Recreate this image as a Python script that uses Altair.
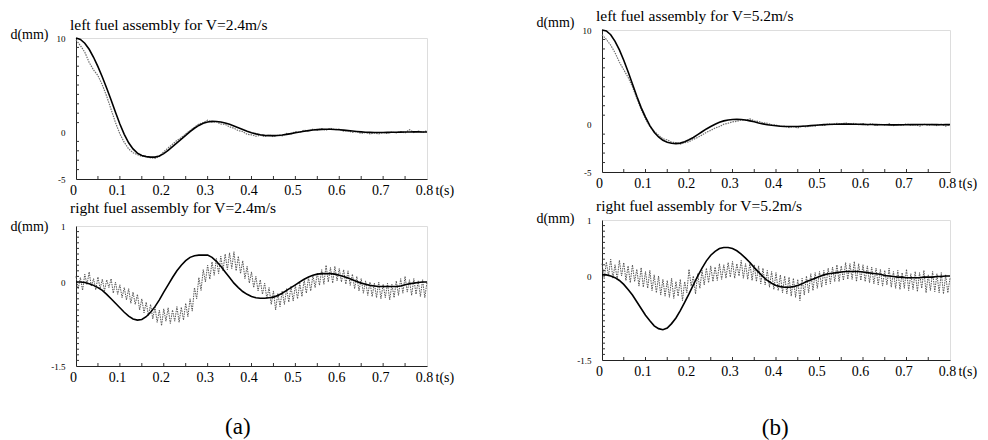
import altair as alt
import pandas as pd

FONT = "Liberation Serif"

# time grids (s)
T_COARSE = [i / 100 for i in range(81)]
T_FINE = [i / 200 for i in range(161)]

# axis label values / inner tick positions
X_LABELS = [0, 0.1, 0.2, 0.3, 0.4, 0.5, 0.6, 0.7, 0.8]
X_MINOR = [0.05, 0.1, 0.15, 0.2, 0.25, 0.3, 0.35, 0.4, 0.45, 0.5, 0.55, 0.6, 0.65, 0.7, 0.75]
Y_LABELS_TOP = [-5, 0, 10]
Y_MINOR_TOP = [-4, -3, -2, -1, 1, 2, 3, 4, 5, 6, 7, 8, 9]
Y_LABELS_BOT = [-1.5, 0, 1]
Y_MINOR_BOT = [-1.4, -1.3, -1.2, -1.1, -1.0, -0.9, -0.8, -0.7, -0.6, -0.5, -0.4, -0.3, -0.2, -0.1,
               0.1, 0.2, 0.3, 0.4, 0.5, 0.6, 0.7, 0.8, 0.9]

TITLES = ["left fuel assembly for V=2.4m/s", "right fuel assembly for V=2.4m/s",
          "left fuel assembly for V=5.2m/s", "right fuel assembly for V=5.2m/s"]
CAPTIONS = ["(a)", "(b)"]

# (a) left fuel assembly, V=2.4 m/s
LEFT24_CALC = [10.0, 9.85, 9.45, 8.8, 7.95, 6.95, 5.85, 4.65, 3.4, 2.1, 0.85,
               -0.25, -1.15, -1.8, -2.25, -2.5, -2.62, -2.67, -2.67, -2.55, -2.3,
               -1.95, -1.55, -1.15, -0.75, -0.35, 0.05, 0.4, 0.7, 0.92, 1.07,
               1.13, 1.12, 1.06, 0.96, 0.82, 0.65, 0.46, 0.27, 0.09, -0.07,
               -0.2, -0.3, -0.36, -0.39, -0.39, -0.37, -0.32, -0.25, -0.17, -0.08,
               0.0, 0.08, 0.15, 0.21, 0.25, 0.28, 0.29, 0.29, 0.27, 0.24,
               0.2, 0.15, 0.1, 0.05, 0.01, -0.02, -0.04, -0.05, -0.05, -0.05,
               -0.04, -0.03, -0.02, -0.01, 0.0, 0.0, 0.01, 0.01, 0.0, 0.0]
LEFT24_EXP = [9.8, 9.2, 8.5, 7.4, 6.6, 6.0, 5.0, 3.8, 2.4, 1.0, -0.2,
              -1.1, -1.8, -2.2, -2.4, -2.6, -2.6, -2.75, -2.8, -2.6, -2.1,
              -1.7, -1.3, -0.9, -0.6, -0.2, 0.15, 0.5, 0.85, 1.0, 1.25,
              1.05, 1.1, 0.85, 0.8, 0.55, 0.4, 0.15, 0.05, -0.25, -0.3,
              -0.45, -0.35, -0.5, -0.3, -0.5, -0.35, -0.4, -0.15, -0.2, 0.05,
              -0.05, 0.2, 0.1, 0.3, 0.2, 0.35, 0.2, 0.4, 0.25, 0.3,
              0.1, 0.15, -0.05, 0.05, -0.15, -0.05, -0.2, -0.1, -0.2, -0.05,
              -0.15, 0.0, -0.1, 0.05, -0.1, 0.25, -0.05, 0.1, -0.05, 0.15]

# (a) right fuel assembly, V=2.4 m/s
RIGHT24_CALC = [0.0, 0.0, -0.01, -0.03, -0.06, -0.1, -0.15, -0.22, -0.3, -0.38, -0.46,
                -0.54, -0.61, -0.66, -0.68, -0.67, -0.62, -0.54, -0.44, -0.32, -0.18,
                -0.05, 0.08, 0.2, 0.3, 0.38, 0.44, 0.47, 0.48, 0.48, 0.48,
                0.44, 0.37, 0.28, 0.18, 0.08, -0.02, -0.1, -0.17, -0.22, -0.26,
                -0.28, -0.29, -0.29, -0.28, -0.27, -0.24, -0.2, -0.15, -0.1, -0.05,
                0.0, 0.05, 0.09, 0.12, 0.14, 0.15, 0.15, 0.15, 0.14, 0.12,
                0.1, 0.07, 0.04, 0.01, -0.02, -0.04, -0.06, -0.07, -0.08, -0.08,
                -0.08, -0.08, -0.08, -0.07, -0.05, -0.03, -0.02, -0.01, 0.0, 0.0]
RIGHT24_EXP = [0.10, -0.12, 0.08, -0.15, 0.14, -0.05, 0.18, -0.08, 0.06, -0.14,
               0.09, -0.12, 0.05, -0.16, 0.04, -0.10, 0.06, -0.20, 0.00, -0.22,
               -0.05, -0.28, -0.10, -0.32, -0.12, -0.38, -0.18, -0.40, -0.22, -0.50,
               -0.30, -0.55, -0.36, -0.60, -0.40, -0.66, -0.45, -0.72, -0.50, -0.78,
               -0.48, -0.70, -0.46, -0.74, -0.50, -0.70, -0.44, -0.72, -0.45, -0.68,
               -0.38, -0.62, -0.30, -0.52, -0.10, -0.30, 0.08, -0.15, 0.22, 0.00,
               0.30, 0.05, 0.36, 0.12, 0.42, 0.15, 0.46, 0.20, 0.50, 0.22,
               0.52, 0.24, 0.54, 0.20, 0.46, 0.15, 0.38, 0.06, 0.28, -0.02,
               0.18, -0.10, 0.10, -0.16, 0.04, -0.22, -0.02, -0.30, -0.10, -0.40,
               -0.16, -0.50, -0.20, -0.44, -0.16, -0.40, -0.12, -0.36, -0.08, -0.34,
               -0.06, -0.30, -0.02, -0.26, 0.04, -0.20, 0.08, -0.16, 0.12, -0.10,
               0.16, -0.06, 0.22, -0.04, 0.30, 0.00, 0.26, -0.02, 0.28, 0.02,
               0.24, 0.00, 0.22, -0.04, 0.20, -0.06, 0.14, -0.12, 0.10, -0.16,
               0.06, -0.20, 0.02, -0.24, 0.00, -0.26, -0.02, -0.28, 0.00, -0.30,
               -0.04, -0.28, -0.02, -0.32, -0.04, -0.28, 0.02, -0.24, 0.06, -0.20,
               0.10, -0.18, 0.04, -0.24, 0.06, -0.22, 0.02, -0.26, 0.04, -0.28,
               0.00]

# (b) left fuel assembly, V=5.2 m/s
LEFT52_CALC = [10.0, 9.9, 9.5, 8.8, 7.9, 6.8, 5.6, 4.3, 3.0, 1.8, 0.8,
               -0.1, -0.8, -1.3, -1.65, -1.85, -1.97, -2.0, -1.95, -1.8, -1.6,
               -1.35, -1.05, -0.75, -0.45, -0.2, 0.05, 0.25, 0.4, 0.5, 0.55,
               0.57, 0.55, 0.5, 0.4, 0.3, 0.18, 0.08, 0.0, -0.07, -0.12,
               -0.16, -0.19, -0.2, -0.2, -0.19, -0.17, -0.14, -0.1, -0.06, -0.03,
               0.0, 0.02, 0.04, 0.05, 0.06, 0.06, 0.06, 0.05, 0.04, 0.03,
               0.02, 0.01, 0.0, -0.01, -0.01, -0.02, -0.02, -0.02, -0.01, -0.01,
               0.0, 0.0, 0.01, 0.01, 0.01, 0.0, 0.0, -0.01, 0.0, 0.0]
LEFT52_EXP = [9.5, 9.0, 8.4, 7.6, 6.6, 5.8, 5.0, 4.0, 2.8, 1.6, 0.6,
              -0.2, -0.7, -1.1, -1.5, -1.6, -1.85, -1.9, -2.05, -1.9, -1.8,
              -1.55, -1.35, -1.1, -0.8, -0.6, -0.35, -0.2, 0.05, 0.15, 0.3,
              0.35, 0.5, 0.45, 0.6, 0.4, 0.35, 0.2, 0.15, 0.0, -0.05,
              -0.2, -0.15, -0.3, -0.2, -0.35, -0.15, -0.25, -0.1, -0.15, 0.0,
              -0.1, 0.1, 0.0, 0.15, 0.05, 0.2, 0.05, 0.15, 0.0, 0.1,
              -0.05, 0.1, -0.1, 0.05, -0.05, 0.1, -0.1, 0.05, -0.1, 0.1,
              -0.05, 0.0, -0.15, 0.05, -0.1, 0.05, -0.1, 0.05, -0.15, 0.0]

# (b) right fuel assembly, V=5.2 m/s
RIGHT52_CALC = [0.02, 0.02, 0.0, -0.03, -0.08, -0.15, -0.24, -0.34, -0.46, -0.58, -0.7,
                -0.8, -0.89, -0.94, -0.96, -0.93, -0.85, -0.75, -0.62, -0.47, -0.32,
                -0.16, 0.0, 0.14, 0.27, 0.37, 0.44, 0.49, 0.51, 0.51, 0.49,
                0.45, 0.39, 0.32, 0.24, 0.15, 0.07, -0.01, -0.08, -0.13, -0.17,
                -0.19, -0.2, -0.2, -0.19, -0.17, -0.14, -0.1, -0.07, -0.04, -0.01,
                0.02, 0.04, 0.05, 0.06, 0.07, 0.08, 0.08, 0.08, 0.08, 0.07,
                0.06, 0.05, 0.04, 0.03, 0.01, 0.0, -0.01, -0.02, -0.02, -0.03,
                -0.03, -0.03, -0.03, -0.02, -0.02, -0.02, -0.01, -0.01, 0.0, 0.0]
RIGHT52_EXP = [0.22, -0.05, 0.25, 0.00, 0.30, -0.04, 0.20, -0.06, 0.28, 0.00,
               0.24, -0.08, 0.18, -0.12, 0.20, -0.10, 0.12, -0.18, 0.15, -0.20,
               0.08, -0.22, 0.10, -0.26, 0.02, -0.30, 0.00, -0.34, -0.06, -0.36,
               -0.08, -0.38, -0.04, -0.40, -0.10, -0.36, -0.06, -0.44, -0.10, -0.30,
               0.12, -0.18, 0.00, -0.32, 0.04, -0.22, 0.10, -0.16, 0.14, -0.12,
               0.18, -0.10, 0.16, -0.08, 0.22, -0.06, 0.20, -0.04, 0.24, -0.02,
               0.26, -0.04, 0.22, 0.00, 0.28, -0.04, 0.22, -0.06, 0.24, -0.08,
               0.20, -0.10, 0.18, -0.14, 0.14, -0.16, 0.10, -0.20, 0.08, -0.24,
               0.06, -0.26, 0.02, -0.30, 0.00, -0.32, -0.02, -0.36, -0.04, -0.38,
               -0.06, -0.44, -0.04, -0.34, 0.00, -0.30, 0.04, -0.26, 0.06, -0.22,
               0.08, -0.20, 0.10, -0.16, 0.14, -0.14, 0.16, -0.10, 0.20, -0.10,
               0.18, -0.08, 0.24, -0.06, 0.22, -0.06, 0.26, -0.10, 0.22, -0.08,
               0.20, -0.10, 0.18, -0.12, 0.16, -0.14, 0.14, -0.16, 0.12, -0.18,
               0.10, -0.16, 0.14, -0.20, 0.08, -0.22, 0.10, -0.24, 0.06, -0.22,
               0.12, -0.26, 0.04, -0.24, 0.08, -0.28, 0.06, -0.22, 0.10, -0.30,
               0.02, -0.26, 0.08, -0.28, 0.04, -0.30, 0.06, -0.32, 0.02, -0.30,
               -0.04]


def panel(calc, t_exp, exp, ydom, ylabels, yminor, title, w, h, exp_color, exp_width,
          title_y, dmm_y, pad_top=None):
    xs = alt.Scale(domain=[0, 0.8], nice=False, zero=False)
    ys = alt.Scale(domain=ydom, nice=False, zero=False)
    x_axis = alt.Axis(values=X_LABELS, labelExpr="datum.value == 0 ? '0' : format(datum.value, '.1f')",
                      ticks=False, grid=False, labelFlush=False, labelFont=FONT, labelFontSize=14,
                      labelColor="black", labelPadding=4, labelOffset=-3, domainColor="#222",
                      title="t(s)", titleFont=FONT, titleFontSize=14, titleFontWeight="normal",
                      titleColor="black", titleX=w + 8, titleY=4, titleAlign="left",
                      titleBaseline="top", titleAngle=0)
    y_axis = alt.Axis(values=ylabels, labelExpr="'' + datum.value", ticks=False, grid=False,
                      labelFlush=False, labelOverlap=False, labelFont=FONT, labelFontSize=9,
                      labelColor="black", labelPadding=11, domainColor="#222",
                      title="d(mm)", titleFont=FONT, titleFontSize=14, titleFontWeight="normal",
                      titleColor="black", titleAngle=0, titleX=-28, titleY=dmm_y,
                      titleAlign="right", titleBaseline="middle")
    X = alt.X("t:Q", scale=xs, axis=x_axis)
    Y = alt.Y("d:Q", scale=ys, axis=y_axis)
    exp_df = pd.DataFrame({"t": t_exp, "d": exp})
    calc_df = pd.DataFrame({"t": T_COARSE, "d": calc})
    exp_line = alt.Chart(exp_df).mark_line(color=exp_color, strokeWidth=exp_width,
                                           strokeDash=[1.5, 1]).encode(x=X, y=Y)
    calc_line = alt.Chart(calc_df).mark_line(color="black", strokeWidth=1.6).encode(x=X, y=Y)
    xt = alt.Chart(pd.DataFrame({"t": X_MINOR})).mark_rule(color="#333", strokeWidth=1).encode(
        x=X, y=alt.value(h), y2=alt.value(h - 3))
    yt = alt.Chart(pd.DataFrame({"d": yminor})).mark_rule(color="#333", strokeWidth=1).encode(
        y=Y, x=alt.value(0), x2=alt.value(3))
    ttl = alt.Chart(pd.DataFrame({"label": [title]})).mark_text(
        align="left", baseline="alphabetic", font=FONT, fontSize=15.5, color="black"
    ).encode(x=alt.value(-6), y=alt.value(title_y), text="label:N")
    layers = [exp_line, calc_line, xt, yt, ttl]
    if pad_top is not None:
        pad = alt.Chart(pd.DataFrame({"label": ["."]})).mark_text(
            align="left", baseline="top", fontSize=4, opacity=0
        ).encode(x=alt.value(0), y=alt.value(-pad_top), text="label:N")
        layers.append(pad)
    return alt.layer(*layers).properties(width=w, height=h)


tl = panel(LEFT24_CALC, T_COARSE, LEFT24_EXP, [-5, 10], Y_LABELS_TOP, Y_MINOR_TOP,
           TITLES[0], 351, 141, "#6f6f6f", 1.2, -8, -4)
bl = panel(RIGHT24_CALC, T_FINE, RIGHT24_EXP, [-1.5, 1], Y_LABELS_BOT, Y_MINOR_BOT,
           TITLES[1], 351, 140, "#555555", 1, -13, 0, pad_top=41)
tr = panel(LEFT52_CALC, T_COARSE, LEFT52_EXP, [-5, 10], Y_LABELS_TOP, Y_MINOR_TOP,
           TITLES[2], 348, 142, "#6f6f6f", 1.2, -9, -8)
br = panel(RIGHT52_CALC, T_FINE, RIGHT52_EXP, [-1.5, 1], Y_LABELS_BOT, Y_MINOR_BOT,
           TITLES[3], 348, 140, "#555555", 1, -9, -2)

# thin invisible first row of the (a) column: lets the (a) panels sit lower than the (b) panels
spacer = alt.Chart(pd.DataFrame({"t": [0.0]})).mark_rule(opacity=0).encode(
    x=alt.X("t:Q", axis=None), y=alt.value(0), y2=alt.value(1)
).properties(width=351, height=1, view=alt.ViewConfig(strokeOpacity=0))

left = alt.vconcat(spacer, tl, bl, spacing=-14).properties(
    title=alt.TitleParams(CAPTIONS[0], orient="bottom", anchor="middle", font=FONT, fontSize=23,
                          fontWeight="normal", color="black", offset=31, dx=6))
right = alt.vconcat(tr, br, spacing=7).properties(
    title=alt.TitleParams(CAPTIONS[1], orient="bottom", anchor="middle", font=FONT, fontSize=23,
                          fontWeight="normal", color="black", offset=38, dx=19))

chart = alt.hconcat(left, right, spacing=80).properties(
    padding={"left": 1, "top": 0, "right": 0, "bottom": 0}
).configure_view(stroke="#8a8a8a", strokeWidth=1).configure(background="white").configure_axis(
    labelFont=FONT, titleFont=FONT).configure_title(font=FONT)

chart.save("out.html", embed_options={"renderer": "svg", "actions": False})
